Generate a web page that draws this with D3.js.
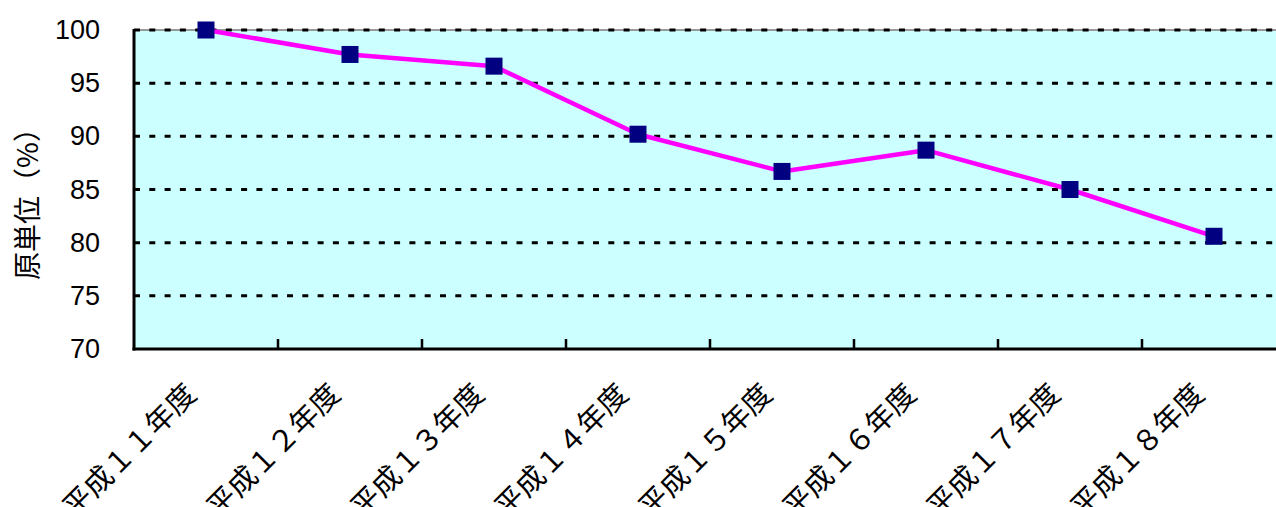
<!DOCTYPE html>
<html>
<head>
<meta charset="utf-8">
<script src="https://cdn.jsdelivr.net/npm/d3@7"></script>
<style>
  html, body { margin: 0; padding: 0; background: #fff; }
  svg { display: block; }
</style>
</head>
<body>
<svg id="chart" width="1276" height="507"></svg>
<script>
// Fiscal years (Heisei era) and unit-consumption index (%)
const categories = ["平成１１年度", "平成１２年度", "平成１３年度", "平成１４年度",
                    "平成１５年度", "平成１６年度", "平成１７年度", "平成１８年度"];
const values = [100, 97.7, 96.6, 90.2, 86.7, 88.7, 85.0, 80.6];
const yTicks = [70, 75, 80, 85, 90, 95, 100];
const yTitle = "原単位（%）";

const svg = d3.select("#chart");
const plotLeft = 134, plotTop = 30, plotBottom = 349;
const band = 144;
const plotRight = plotLeft + band * categories.length;

const x = d3.scaleBand().domain(categories).range([plotLeft, plotRight]).paddingInner(0).paddingOuter(0);
const y = d3.scaleLinear().domain([70, 100]).range([plotBottom, plotTop]);

// plot background
svg.append("rect")
  .attr("x", plotLeft).attr("y", plotTop)
  .attr("width", plotRight - plotLeft).attr("height", plotBottom - plotTop)
  .attr("fill", "#ccffff")
  .attr("stroke", "#9a9a9a").attr("stroke-width", 2);

// dashed horizontal gridlines
svg.append("g").selectAll("line")
  .data(yTicks.filter(d => d > 70))
  .join("line")
  .attr("x1", plotLeft).attr("x2", plotRight)
  .attr("y1", d => y(d)).attr("y2", d => y(d))
  .attr("stroke", "#000").attr("stroke-width", 3)
  .attr("stroke-dasharray", "6,9.3");

// y axis
const yAxis = d3.axisLeft(y).tickValues(yTicks).tickSize(0).tickPadding(34);
const gy = svg.append("g").attr("transform", `translate(${plotLeft},0)`).call(yAxis);
gy.select(".domain").remove();
gy.selectAll("text")
  .attr("font-family", "'Liberation Sans', Arial, sans-serif")
  .attr("font-size", 27)
  .attr("fill", "#000");
svg.append("line")
  .attr("x1", plotLeft).attr("x2", plotLeft)
  .attr("y1", plotTop - 1).attr("y2", plotBottom + 1.5)
  .attr("stroke", "#000").attr("stroke-width", 3);

// x axis: ticks at category boundaries, pointing into the plot
const gx = svg.append("g");
gx.append("line")
  .attr("x1", plotLeft - 1.5).attr("x2", plotRight)
  .attr("y1", plotBottom).attr("y2", plotBottom)
  .attr("stroke", "#000").attr("stroke-width", 3);
gx.selectAll("line.tick")
  .data(categories.slice(1))
  .join("line")
  .attr("class", "tick")
  .attr("x1", d => x(d)).attr("x2", d => x(d))
  .attr("y1", plotBottom).attr("y2", plotBottom - 10)
  .attr("stroke", "#000").attr("stroke-width", 2.5);

gx.selectAll("text")
  .data(categories)
  .join("text")
  .attr("transform", d => `translate(${x(d) + x.bandwidth() / 2 - 8},${plotBottom + 47}) rotate(-45)`)
  .attr("text-anchor", "end")
  .attr("font-family", "'Noto Sans CJK JP', sans-serif")
  .attr("font-size", 29)
  .attr("fill", "#000")
  .text(d => d);

// y axis title
svg.append("text")
  .attr("transform", "translate(38,197) rotate(-90)")
  .attr("text-anchor", "middle")
  .attr("font-family", "'Noto Sans CJK JP', sans-serif")
  .attr("font-size", 28)
  .attr("fill", "#000")
  .text(yTitle);

// series line
const cx = d => x(d) + x.bandwidth() / 2;
const line = d3.line().x((d, i) => cx(categories[i])).y(d => y(d));
svg.append("path")
  .datum(values)
  .attr("d", line)
  .attr("fill", "none")
  .attr("stroke", "#ff00ff")
  .attr("stroke-width", 4.5)
  .attr("stroke-linejoin", "round");

// square markers
const m = 17;
svg.append("g").selectAll("rect")
  .data(values)
  .join("rect")
  .attr("x", (d, i) => cx(categories[i]) - m / 2)
  .attr("y", d => y(d) - m / 2)
  .attr("width", m).attr("height", m)
  .attr("fill", "#000080");
</script>
</body>
</html>
